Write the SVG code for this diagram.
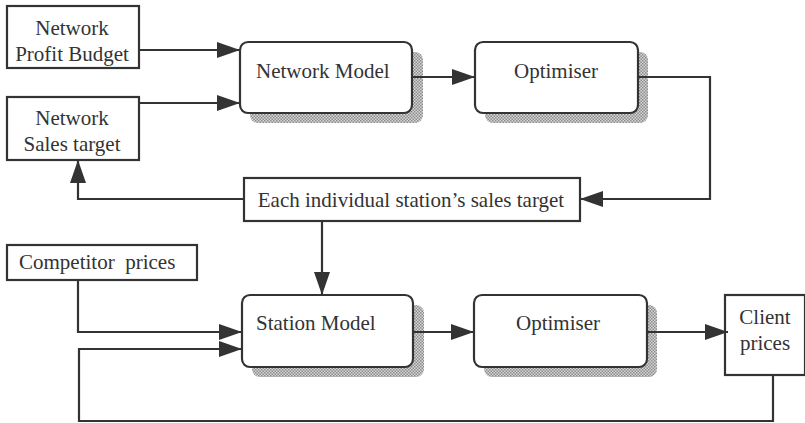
<svg xmlns="http://www.w3.org/2000/svg" width="805" height="423" viewBox="0 0 805 423">
<defs>
<pattern id="dots" width="3" height="3" patternUnits="userSpaceOnUse">
<rect width="3" height="3" fill="#d8d8d8"/>
<rect width="1.5" height="1.5" fill="#8a8a8a"/>
<rect x="1.5" y="1.5" width="1.5" height="1.5" fill="#8a8a8a"/>
</pattern>
<marker id="arr" markerUnits="userSpaceOnUse" markerWidth="24" markerHeight="18" refX="23" refY="9" orient="auto">
<path d="M0,1 L23,9 L0,17 Z" fill="#333"/>
</marker>
</defs>
<style>
.box{fill:#fff;stroke:#333;stroke-width:2.2}
.shadow{fill:url(#dots)}
.t{font-family:"Liberation Serif","Times New Roman",serif;font-size:21px;fill:#333}
.c{text-anchor:middle}
.ln{fill:none;stroke:#333;stroke-width:2.2}
</style>
<rect width="805" height="423" fill="#fff"/>

<g id="network-profit-budget">
<rect class="box" x="7" y="6" width="132" height="62"/>
<text class="t c" x="72" y="35">Network</text>
<text class="t c" x="72" y="61">Profit Budget</text>
</g>

<g id="network-sales-target">
<rect class="box" x="7" y="97" width="132" height="63"/>
<text class="t c" x="72" y="125">Network</text>
<text class="t c" x="72" y="151">Sales target</text>
</g>

<g id="network-model">
<rect class="shadow" x="250" y="52" width="173" height="71" rx="8"/>
<rect class="box" x="240" y="42" width="172" height="71" rx="8"/>
<text class="t" x="256" y="78">Network Model</text>
</g>

<g id="optimiser-top">
<rect class="shadow" x="485" y="52" width="163" height="71" rx="8"/>
<rect class="box" x="475" y="42" width="163" height="71" rx="8"/>
<text class="t c" x="556" y="78">Optimiser</text>
</g>

<g id="station-target">
<rect class="box" x="244" y="178" width="336" height="43"/>
<text class="t c" x="411" y="207">Each individual station’s sales target</text>
</g>

<g id="competitor-prices">
<rect class="box" x="7" y="245" width="190" height="35"/>
<text class="t" x="19" y="269" xml:space="preserve">Competitor  prices</text>
</g>

<g id="station-model">
<rect class="shadow" x="252" y="305" width="172" height="72" rx="8"/>
<rect class="box" x="242" y="295" width="171" height="72" rx="8"/>
<text class="t" x="256" y="330">Station Model</text>
</g>

<g id="optimiser-bottom">
<rect class="shadow" x="484" y="305" width="173" height="72" rx="8"/>
<rect class="box" x="474" y="295" width="173" height="72" rx="8"/>
<text class="t c" x="558" y="330">Optimiser</text>
</g>

<g id="client-prices">
<rect class="box" x="725" y="295" width="80" height="80"/>
<text class="t c" x="765" y="324">Client</text>
<text class="t c" x="765" y="350">prices</text>
</g>

<g id="connectors">
<path class="ln" d="M139,50 L240,50" marker-end="url(#arr)"/>
<path class="ln" d="M139,103 L240,103" marker-end="url(#arr)"/>
<path class="ln" d="M412,77 L475,77" marker-end="url(#arr)"/>
<path class="ln" d="M638,77 L710,77 L710,199 L580,199" marker-end="url(#arr)"/>
<path class="ln" d="M244,199 L78,199 L78,160" marker-end="url(#arr)"/>
<path class="ln" d="M322,221 L322,295" marker-end="url(#arr)"/>
<path class="ln" d="M78,280 L78,332 L242,332" marker-end="url(#arr)"/>
<path class="ln" d="M413,332 L474,332" marker-end="url(#arr)"/>
<path class="ln" d="M647,332 L728,332" marker-end="url(#arr)"/>
<path class="ln" d="M773,375 L773,421 L79,421 L79,349 L242,349" marker-end="url(#arr)"/>
</g>
</svg>
